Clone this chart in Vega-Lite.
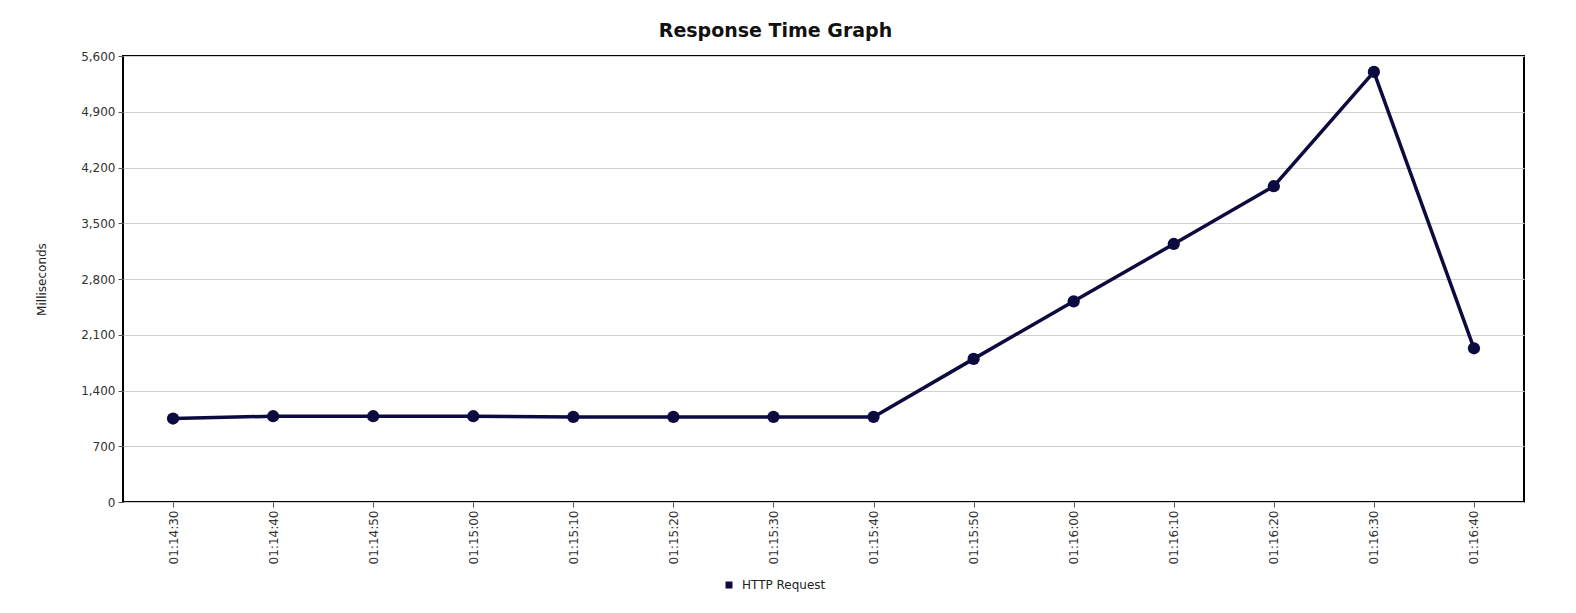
{
  "$schema": "https://vega.github.io/schema/vega-lite/v6.json",
  "width": 1401,
  "height": 446,
  "autosize": {"type": "none"},
  "padding": {"left": 123, "top": 56, "right": 52, "bottom": 111},
  "background": "white",
  "title": {
    "text": "Response Time Graph",
    "font": "DejaVu Sans",
    "fontSize": 19,
    "fontWeight": "bold",
    "color": "#111111",
    "anchor": "middle",
    "frame": "group",
    "dx": -48,
    "dy": 25,
    "offset": 19,
    "baseline": "alphabetic"
  },
  "data": {
    "values": [
      {"time": "01:14:30", "ms": 1048, "series": "HTTP Request"},
      {"time": "01:14:40", "ms": 1077, "series": "HTTP Request"},
      {"time": "01:14:50", "ms": 1077, "series": "HTTP Request"},
      {"time": "01:15:00", "ms": 1077, "series": "HTTP Request"},
      {"time": "01:15:10", "ms": 1068, "series": "HTTP Request"},
      {"time": "01:15:20", "ms": 1068, "series": "HTTP Request"},
      {"time": "01:15:30", "ms": 1068, "series": "HTTP Request"},
      {"time": "01:15:40", "ms": 1068, "series": "HTTP Request"},
      {"time": "01:15:50", "ms": 1797, "series": "HTTP Request"},
      {"time": "01:16:00", "ms": 2520, "series": "HTTP Request"},
      {"time": "01:16:10", "ms": 3240, "series": "HTTP Request"},
      {"time": "01:16:20", "ms": 3965, "series": "HTTP Request"},
      {"time": "01:16:30", "ms": 5400, "series": "HTTP Request"},
      {"time": "01:16:40", "ms": 1930, "series": "HTTP Request"}
    ]
  },
  "encoding": {
    "x": {
      "field": "time",
      "type": "ordinal",
      "sort": null,
      "scale": {"type": "point", "padding": 0.5},
      "axis": {
        "title": null,
        "labelAngle": -90,
        "labelFont": "DejaVu Sans",
        "labelFontSize": 12,
        "labelColor": "#333333",
        "tickSize": 5,
        "tickColor": "#555555",
        "labelPadding": 3,
        "domain": false,
        "grid": false
      }
    },
    "y": {
      "field": "ms",
      "type": "quantitative",
      "scale": {"domain": [0, 5600], "nice": false},
      "axis": {
        "title": "Milliseconds",
        "titleFont": "DejaVu Sans",
        "titleFontSize": 12,
        "titleFontWeight": "normal",
        "titleColor": "#222222",
        "titlePadding": 32,
        "values": [0, 700, 1400, 2100, 2800, 3500, 4200, 4900, 5600],
        "format": ",d",
        "labelFont": "DejaVu Sans",
        "labelFontSize": 12,
        "labelColor": "#333333",
        "tickSize": 5,
        "tickColor": "#555555",
        "labelPadding": 3,
        "domain": false,
        "grid": true,
        "gridColor": "#cfcfcf",
        "gridWidth": 1
      }
    },
    "color": {
      "field": "series",
      "type": "nominal",
      "scale": {"range": ["#0c0a3e"]},
      "legend": {
        "orient": "none",
        "legendX": 600,
        "legendY": 523,
        "title": null,
        "padding": 0,
        "symbolType": "square",
        "symbolSize": 49,
        "symbolFillColor": "#0c0a3e",
        "symbolStrokeWidth": 0,
        "labelFont": "DejaVu Sans",
        "labelFontSize": 12,
        "labelColor": "#222222",
        "labelOffset": 7
      }
    }
  },
  "layer": [
    {"mark": {"type": "line", "strokeWidth": 3.5}},
    {"mark": {"type": "point", "filled": true, "size": 150, "opacity": 1}}
  ],
  "config": {
    "view": {"stroke": "#000000", "strokeWidth": 2}
  }
}
